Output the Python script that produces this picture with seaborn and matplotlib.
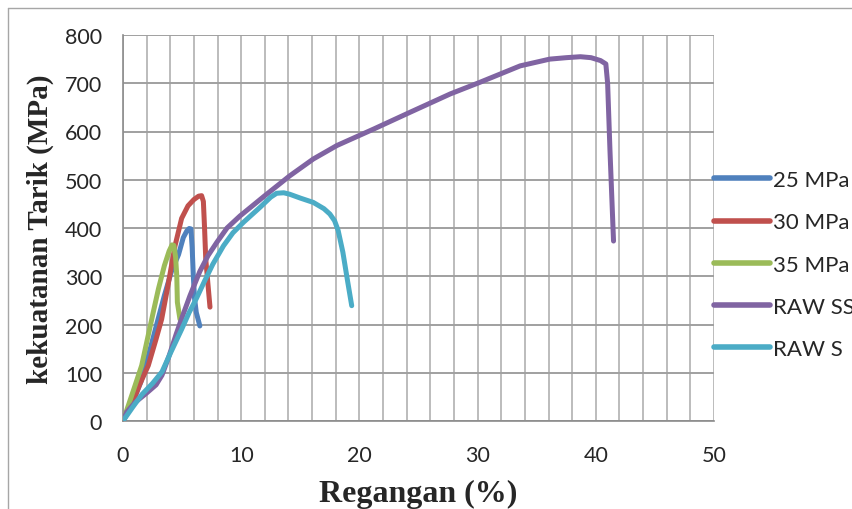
import numpy as np
import pandas as pd
import matplotlib
matplotlib.use("Agg")
import matplotlib.pyplot as plt
from matplotlib.lines import Line2D
import seaborn as sns

# data (regangan %, kekuatan tarik MPa)
x_25 = [0, 0.7, 1.5, 2.2, 2.9, 3.5, 4.1, 4.7, 5.1, 5.4, 5.6, 5.75, 5.85, 5.95, 6.05, 6.2, 6.5]
y_25 = [0, 32, 80, 140, 205, 260, 310, 345, 380, 394, 399, 398, 360, 300, 255, 225, 197]

x_30 = [0, 0.73, 1.4, 2.14, 2.8, 3.27, 3.8, 4.4, 4.96, 5.5, 6.0, 6.4, 6.65, 6.8, 6.9, 7.0, 7.2, 7.36]
y_30 = [0, 32, 75, 115, 170, 211, 280, 363, 420, 446, 459, 466, 467, 455, 400, 336, 280, 236]

x_35 = [0, 0.45, 1.0, 1.58, 2.2, 2.6, 3.0, 3.5, 3.9, 4.15, 4.3, 4.45, 4.55, 4.6, 4.82]
y_35 = [0, 32, 72, 115, 185, 230, 274, 322, 352, 365, 364, 340, 300, 246, 211]

x_ss = [0, 0.3, 1.0, 2.0, 2.8, 3.3, 3.9, 4.5, 5.0, 5.67, 6.5, 7.2, 7.93, 8.8, 9.9, 12.0,
        14.1, 16.1, 18.1, 21.2, 24.3, 27.7, 30.2, 33.6, 36.1, 37.5, 38.7, 39.6, 40.4, 40.85, 41.0, 41.2, 41.5]
y_ss = [0, 18, 38, 58, 75, 95, 135, 180, 215, 260, 310, 343, 370, 400, 425, 467,
        508, 543, 571, 605, 640, 678, 702, 736, 750, 753, 755, 753, 747, 740, 700, 560, 373]

x_s = [0, 0.8, 1.6, 2.5, 3.3, 4.0, 4.96, 5.6, 6.23, 6.9, 7.6, 8.5, 9.3, 10.2, 11.6, 12.5, 13.0,
       13.6, 14.1, 15.0, 16.1, 17.0, 17.5, 17.9, 18.2, 18.6, 19.0, 19.35]
y_s = [0, 28, 55, 78, 102, 140, 190, 225, 255, 290, 325, 363, 390, 412, 443, 464, 472,
       473, 470, 462, 453, 440, 429, 415, 395, 350, 290, 239]

labels = ['25 MPa', '30 MPa', '35 MPa', 'RAW SS', 'RAW S']
colors = ['#4F81BD', '#C0504D', '#9BBB59', '#8064A2', '#4BACC6']

frames = []
for lab, xs, ys in zip(labels, [x_25, x_30, x_35, x_ss, x_s], [y_25, y_30, y_35, y_ss, y_s]):
    frames.append(pd.DataFrame({'Regangan': xs, 'Tegangan': ys, 'Sampel': lab}))
df = pd.concat(frames, ignore_index=True)

sns.set_style("white")
plt.rcParams['font.family'] = ['Lato', 'DejaVu Sans']

fig = plt.figure(figsize=(8.52, 5.10), dpi=100)
ax = fig.add_axes([123/852, 88/510, 591/852, 386/510])

sns.lineplot(data=df, x='Regangan', y='Tegangan', hue='Sampel', hue_order=labels,
             palette=colors, sort=False, estimator=None, linewidth=3.6,
             solid_capstyle='round', solid_joinstyle='round', ax=ax, zorder=3)

ax.set_xlim(0, 50)
ax.set_ylim(0, 800)
ax.set_xticks(np.arange(0, 51, 10))
ax.set_xticks(np.arange(0, 51, 2), minor=True)
ax.set_yticks(np.arange(0, 801, 100))
ax.grid(True, which='both', axis='x', color='#bcbcbc', linewidth=1.4)
ax.grid(True, which='major', axis='y', color='#a0a0a0', linewidth=1.4)
ax.set_axisbelow(True)

for s in ['top', 'right']:
    ax.spines[s].set_visible(False)
for s in ['left', 'bottom']:
    ax.spines[s].set_color('#8c8c8c')
    ax.spines[s].set_linewidth(1.2)

ax.tick_params(axis='both', which='major', direction='out', length=6, width=1.2,
               color='#8c8c8c', labelsize=15.5, pad=9)
ax.tick_params(axis='x', which='major', pad=11)
ax.tick_params(axis='both', which='minor', length=0)

ax.set_xlabel('Regangan (%)', fontsize=23, fontweight='bold', family='Liberation Serif', va='center')
ax.set_ylabel('kekuatanan Tarik (MPa)', fontsize=21, fontweight='bold', family='Liberation Serif', va='center')
ax.xaxis.set_label_coords(0.5, -0.1865)
ax.yaxis.set_label_coords(-0.140, 0.5)

# legend sits right of the plot area and runs past the image edge, as in the reference
leg = ax.legend(loc='center left', bbox_to_anchor=(714/852, 1 - 265.5/510),
                bbox_transform=fig.transFigure, frameon=False, fontsize=16,
                handlelength=2.5, handletextpad=0.15, labelspacing=1.0,
                borderpad=0, borderaxespad=0)
for h in leg.get_lines():
    h.set_linewidth(4)
    h.set_solid_capstyle('round')

# outer chart border (left and top edges visible)
fig.add_artist(Line2D([8/852, 8/852], [0, 1 - 9/510], color='#a6a6a6', linewidth=1, transform=fig.transFigure))
fig.add_artist(Line2D([8/852, 1], [1 - 9/510, 1 - 9/510], color='#a6a6a6', linewidth=1, transform=fig.transFigure))

fig.savefig('out.png', dpi=100)
